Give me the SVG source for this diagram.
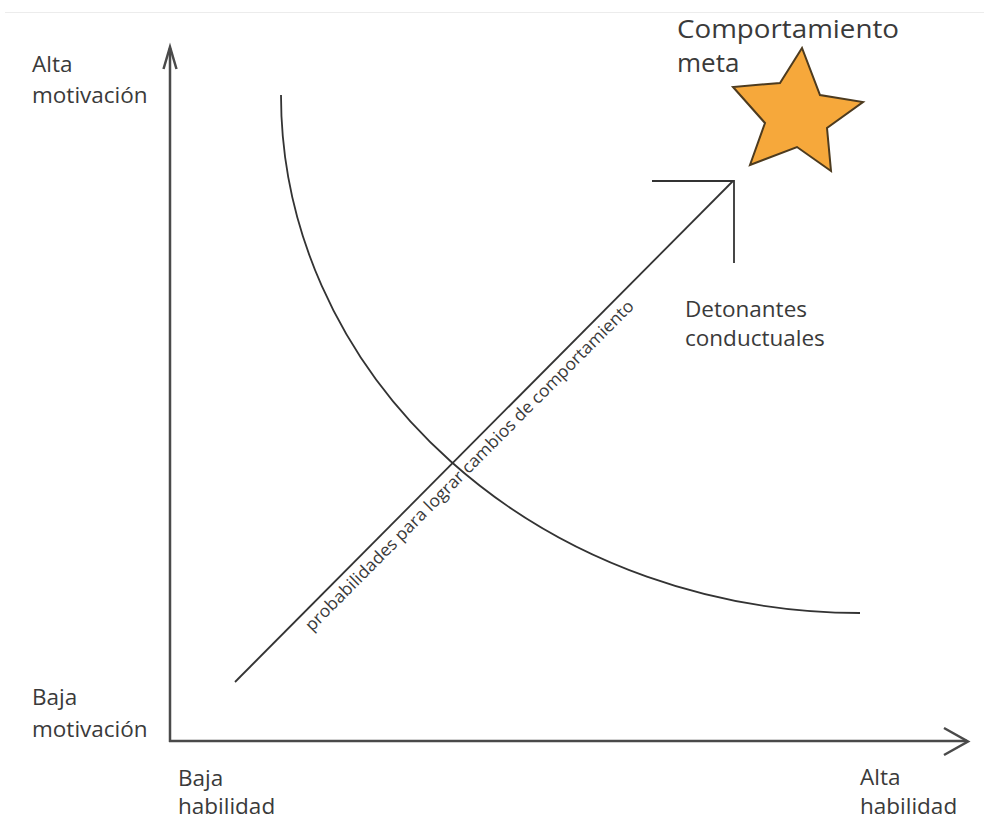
<svg xmlns="http://www.w3.org/2000/svg" width="984" height="821" viewBox="0 0 984 821">
<style>
.lbl{font-family:"Open Sans","Noto Sans",sans-serif;font-size:22.5px;fill:#3a3a3a}
.title{font-size:26px}
.diag{font-size:17px}
.axis{stroke:#4a4a4a;stroke-width:2.5;fill:none}
.ln{stroke:#333;stroke-width:1.8;fill:none}
</style>
<rect width="984" height="821" fill="#fff"/>
<line x1="5" y1="12.5" x2="984" y2="12.5" stroke="#ececec" stroke-width="1"/>
<g id="connectors">
<line class="axis" x1="170" y1="742" x2="170" y2="48"/>
<polyline class="axis" points="163.5,69 170,47 176.5,69"/>
<line class="axis" x1="169" y1="741" x2="967" y2="741"/>
<polyline class="axis" points="944,728 968,741.5 944,755"/>
<path class="ln" d="M281,95 A579,518 0 0 0 860,613"/>
<line class="ln" x1="235" y1="682" x2="733" y2="181"/>
<polyline class="ln" points="652,181 734,181 734,263"/>
</g>
<g id="star">
<polygon points="802,48 780,83 733,87 765,123 750,165 797,147 831,171 827,128 863,102 820,95" fill="#F6A83B" stroke="#4d3b1f" stroke-width="2" stroke-linejoin="miter"/>
</g>
<g id="title">
<text class="lbl title" x="677" y="38" textLength="222" lengthAdjust="spacingAndGlyphs">Comportamiento</text>
<text class="lbl title" x="677" y="72">meta</text>
</g>
<g id="alta-motivacion">
<text class="lbl" x="32" y="72">Alta</text>
<text class="lbl" x="32" y="103">motivación</text>
</g>
<g id="baja-motivacion">
<text class="lbl" x="32" y="705">Baja</text>
<text class="lbl" x="32" y="737">motivación</text>
</g>
<g id="baja-habilidad">
<text class="lbl" x="178" y="786">Baja</text>
<text class="lbl" x="178" y="814">habilidad</text>
</g>
<g id="alta-habilidad">
<text class="lbl" x="860" y="785">Alta</text>
<text class="lbl" x="860" y="814">habilidad</text>
</g>
<g id="detonantes">
<text class="lbl" x="685" y="317">Detonantes</text>
<text class="lbl" x="685" y="346">conductuales</text>
</g>
<g id="diagonal-label">
<text class="lbl diag" transform="translate(312,632) rotate(-45.17)" textLength="458" lengthAdjust="spacingAndGlyphs">probabilidades para lograr cambios de comportamiento</text>
</g>
</svg>
